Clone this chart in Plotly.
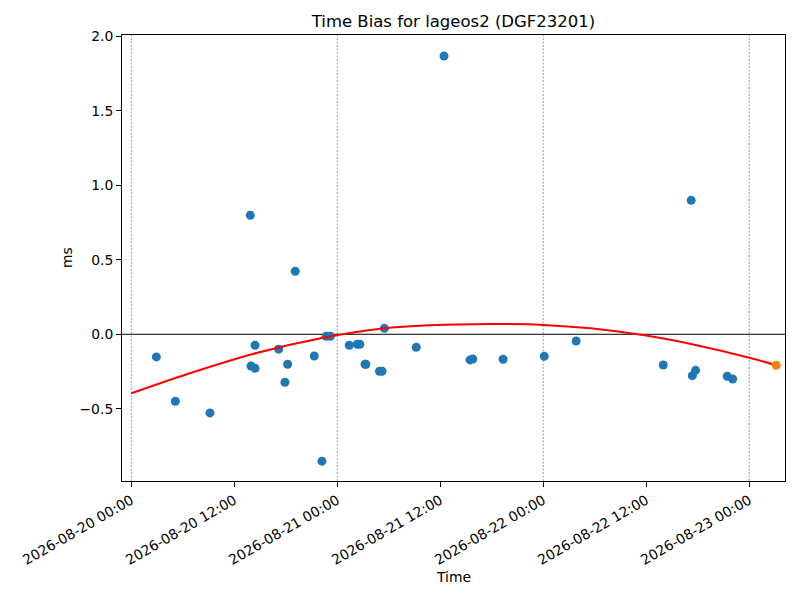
import plotly.graph_objects as go

# Observed time bias samples
obs_time = [
    "2026-08-20 02:55", "2026-08-20 05:08", "2026-08-20 09:10", "2026-08-20 13:52",
    "2026-08-20 13:57", "2026-08-20 14:25", "2026-08-20 14:25", "2026-08-20 17:10",
    "2026-08-20 17:54", "2026-08-20 18:13", "2026-08-20 19:06", "2026-08-20 21:19",
    "2026-08-20 22:13", "2026-08-20 22:43", "2026-08-20 23:11", "2026-08-21 01:24",
    "2026-08-21 02:20", "2026-08-21 02:38", "2026-08-21 03:14", "2026-08-21 03:20",
    "2026-08-21 04:55", "2026-08-21 05:13", "2026-08-21 05:29", "2026-08-21 09:12",
    "2026-08-21 12:26", "2026-08-21 15:28", "2026-08-21 15:47", "2026-08-21 19:19",
    "2026-08-22 00:07", "2026-08-22 03:50", "2026-08-22 13:59", "2026-08-22 17:14",
    "2026-08-22 17:22", "2026-08-22 17:45", "2026-08-22 21:26", "2026-08-22 22:04",
]
obs_bias_ms = [
    -0.152, -0.450, -0.528, 0.799,
    -0.213, -0.228, -0.074, -0.100,
    -0.322, -0.201, 0.423, -0.146,
    -0.852, -0.013, -0.013, -0.074,
    -0.067, -0.067, -0.201, -0.201,
    -0.248, -0.248, 0.040, -0.087,
    1.868, -0.172, -0.166, -0.168,
    -0.148, -0.045, -0.206, 0.899,
    -0.278, -0.242, -0.282, -0.300,
]

# Fitted trend curve
fit_time = [
    "2026-08-20 00:00", "2026-08-20 06:29", "2026-08-20 14:10", "2026-08-20 22:05",
    "2026-08-21 05:17", "2026-08-21 10:48", "2026-08-21 17:46", "2026-08-22 00:00",
    "2026-08-22 05:31", "2026-08-22 12:00", "2026-08-22 18:00", "2026-08-23 00:00",
    "2026-08-23 03:09",
]
fit_bias_ms = [
    -0.396, -0.268, -0.132, -0.027,
    0.038, 0.060, 0.069, 0.063,
    0.040, -0.009, -0.075, -0.157,
    -0.208,
]

# Predicted point
pred_time = ["2026-08-23 03:09"]
pred_bias_ms = [-0.208]

# Day boundaries (dashed guide lines)
day_marks = ["2026-08-20 00:00", "2026-08-21 00:00", "2026-08-22 00:00", "2026-08-23 00:00"]

title_text = "Time Bias for lageos2 (DGF23201)"
x_label = "Time"
y_label = "ms"

FONT = "DejaVu Sans, sans-serif"

# page body offset compensation (8px default body margin)
OFF = 8

fig = go.Figure()

fig.add_trace(go.Scatter(
    x=obs_time, y=obs_bias_ms, mode="markers",
    marker=dict(color="#1f77b4", size=9, line=dict(width=0)),
    showlegend=False,
))
fig.add_trace(go.Scatter(
    x=fit_time, y=fit_bias_ms, mode="lines",
    line=dict(color="red", width=2, shape="spline", smoothing=1.0),
    showlegend=False,
))
fig.add_trace(go.Scatter(
    x=pred_time, y=pred_bias_ms, mode="markers",
    marker=dict(color="#ff7f0e", size=9, line=dict(width=0)),
    showlegend=False,
))

for d in day_marks:
    fig.add_shape(type="line", xref="x", yref="paper", x0=d, x1=d, y0=0, y1=1,
                  line=dict(color="rgba(60,110,160,0.8)", width=0.8, dash="2px,1.5px"),
                  layer="below")

fig.add_shape(type="line", xref="paper", yref="y", x0=0, x1=1, y0=0, y1=0,
              line=dict(color="black", width=1), layer="below")

fig.update_layout(
    width=800, height=600,
    margin=dict(l=122 - OFF, r=15 + OFF, t=35 - OFF, b=119 + OFF),
    paper_bgcolor="white", plot_bgcolor="white",
    font=dict(family=FONT, size=13.9, color="black"),
    title=dict(text=title_text, x=(453.5 - OFF) / 800, xanchor="center",
               y=1 - (21 - OFF) / 600, yanchor="middle",
               font=dict(family=FONT, size=16.5, color="black")),
    xaxis=dict(
        type="date", automargin=False,
        range=["2026-08-19 22:55", "2026-08-23 04:10"],
        tick0="2026-08-20 00:00", dtick=43200000,
        tickformat="%Y-%m-%d %H:%M", tickangle=-30,
        showgrid=False, zeroline=False,
        showline=True, linecolor="black", linewidth=1, mirror=True,
        ticks="outside", ticklen=5, tickwidth=1, tickcolor="black",
        tickfont=dict(family=FONT, size=13.9, color="black"),
    ),
    yaxis=dict(
        automargin=False,
        range=[-0.985, 2.009],
        tick0=0, dtick=0.5, tickformat=".1f",
        showgrid=False, zeroline=False,
        showline=True, linecolor="black", linewidth=1, mirror=True,
        ticks="outside", ticklen=5, tickwidth=1, tickcolor="black",
        tickfont=dict(family=FONT, size=13.9, color="black"),
    ),
    annotations=[
        dict(text=x_label, xref="paper", yref="paper", x=0.5, y=-(577 - 481) / 446,
             xanchor="center", yanchor="middle", showarrow=False,
             font=dict(family=FONT, size=13.9, color="black")),
        dict(text=y_label, xref="paper", yref="paper", x=(67 - 122) / 663, y=0.5,
             xanchor="center", yanchor="middle", showarrow=False, textangle=-90,
             font=dict(family=FONT, size=13.9, color="black")),
    ],
)

fig.write_html("out.html")
